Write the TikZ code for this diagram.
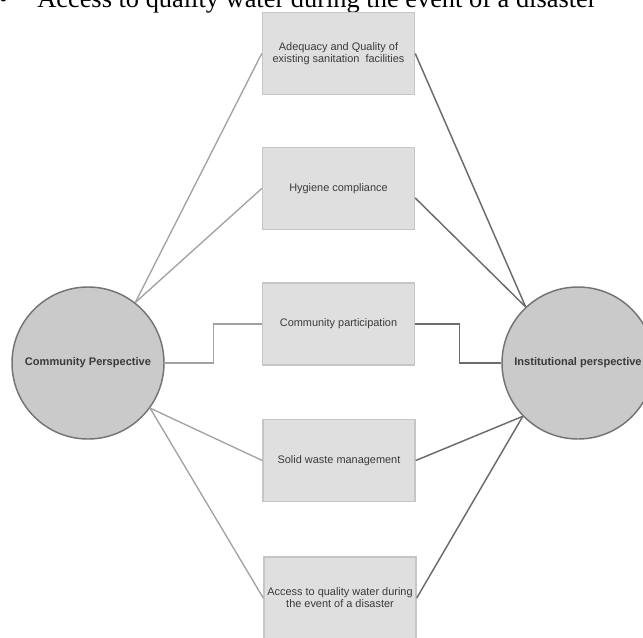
\documentclass[tikz,border=0pt]{standalone}
\usepackage{fontspec}
\setmainfont{Liberation Serif}
\newfontfamily\boxfont{Liberation Sans}
\usetikzlibrary{calc}
\definecolor{circfill}{HTML}{CACACA}
\definecolor{circline}{HTML}{747474}
\definecolor{boxfill}{HTML}{DFDFDF}
\definecolor{boxline}{HTML}{C6C6C6}
\definecolor{lightlink}{HTML}{A2A2A2}
\definecolor{darklink}{HTML}{6C6C6C}
\definecolor{txtgray}{HTML}{3A3A3A}
\tikzset{
  persp/.style={circle, draw=circline, fill=circfill, line width=1.1pt, minimum size=114pt, inner sep=0pt,
    font=\boxfont\bfseries\fontsize{8.3pt}{9.5pt}\selectfont, text=txtgray},
  factor/.style={rectangle, draw=boxline, fill=boxfill, line width=1.1pt, minimum width=114pt, minimum height=61.5pt,
    inner sep=0pt, align=center, font=\boxfont\fontsize{8.2pt}{9pt}\selectfont, text=txtgray},
  leftlink/.style={draw=lightlink, line width=1pt},
  rightlink/.style={draw=darklink, line width=1.1pt},
}
\begin{document}
\begin{tikzpicture}[x=0.75pt,y=-0.75pt]
\useasboundingbox (0,0) rectangle (643,637);
\clip (0,0) rectangle (643,637);
\fill[white] (0,0) rectangle (643,637);

\node[anchor=base west, inner sep=0pt, font=\fontsize{19.8pt}{24pt}\selectfont] (bullet) at (-1.5,7.5) {•};
\node[anchor=base west, inner sep=0pt, font=\fontsize{19.8pt}{24pt}\selectfont] (head) at (37,7.5) {Access to quality water during the event of a disaster};

\node[factor] (b1) at (338.5,53.5) {Adequacy and Quality of\\existing sanitation\ \ facilities};
\node[factor] (b2) at (338.5,188.5) {Hygiene compliance};
\node[factor] (b3) at (338.5,324) {Community participation};
\node[factor] (b4) at (339,460.5) {Solid waste management};
\node[factor] (b5) at (340,598) {Access to quality water during\\the event of a disaster};

\node[persp] (cl) at (88,363) {Community Perspective};
\node[persp] (cr) at (578,363) {Institutional perspective};

\draw[leftlink] (cl.52) -- (b1.west);
\draw[leftlink] (cl.52) -- (b2.west);
\draw[leftlink] (cl.east) -- ++(49,0) |- (b3.west);
\draw[leftlink] (cl.-36) -- (b4.west);
\draw[leftlink] (cl.-36) -- (b5.west);

\draw[rightlink] (b1.east) -- (cr.133);
\draw[rightlink] ($(b2.east)+(0,9.5)$) -- (cr.133);
\draw[rightlink] (b3.east) -- ++(44,0) |- (cr.west);
\draw[rightlink] (b4.east) -- (cr.224);
\draw[rightlink] (b5.east) -- (cr.224);
\end{tikzpicture}
\end{document}
